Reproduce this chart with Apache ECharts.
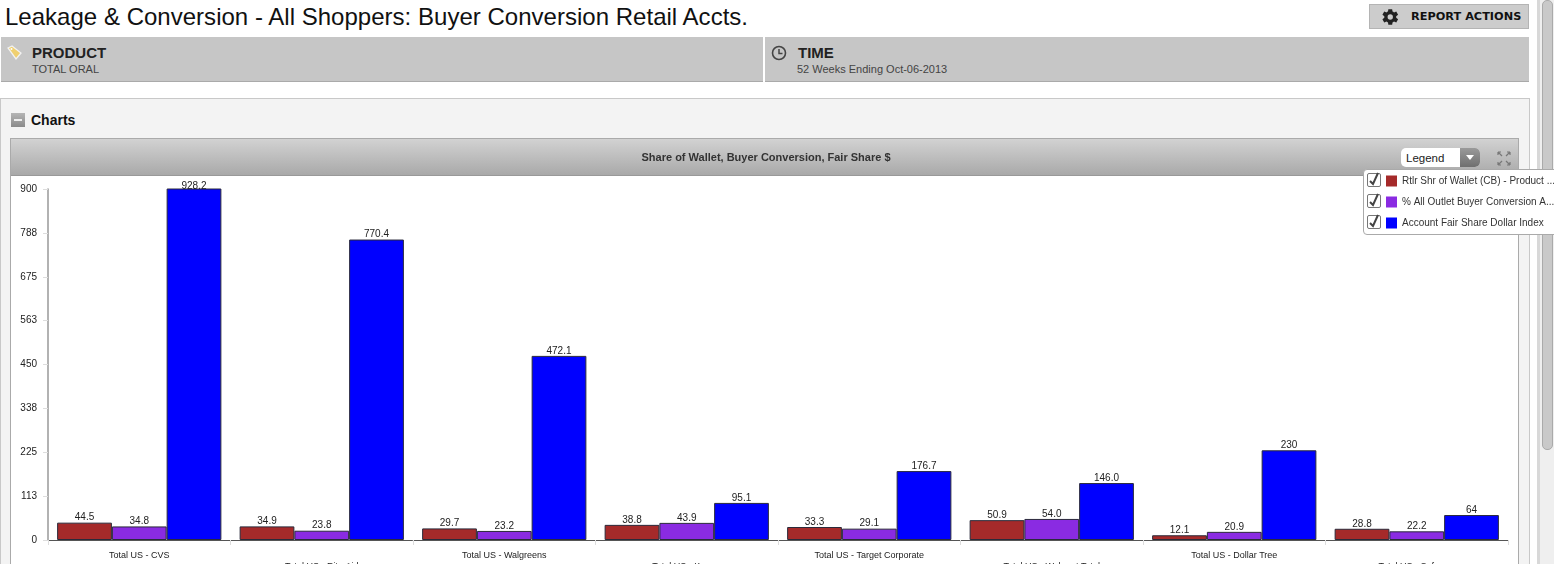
<!DOCTYPE html>
<html><head><meta charset="utf-8">
<script src="https://cdn.jsdelivr.net/npm/echarts@6/dist/echarts.min.js"></script>
<style>
html,body{margin:0;padding:0;width:1554px;height:564px;overflow:hidden;background:#fff;font-family:"Liberation Sans",Arial,sans-serif}
.a{position:absolute;box-sizing:border-box}
#chart{position:absolute;left:0;top:0;width:1554px;height:564px;z-index:5}
</style></head><body>
<div class="a" style="left:5px;top:3px;font-size:24px;line-height:28px;color:#111;white-space:nowrap;letter-spacing:.02px">Leakage &amp; Conversion - All Shoppers: Buyer Conversion Retail Accts.</div>
<div class="a" style="left:1369px;top:4px;width:160px;height:25px;background:#ccc;border:1px solid #b4b4b4"></div>
<svg class="a" style="left:1380px;top:7px" width="20" height="20" viewBox="0 0 24 24"><path fill="#222" d="M19.4 13a7.6 7.6 0 0 0 0-2l2.3-1.8-2.2-3.8-2.7 1.1a7.6 7.6 0 0 0-1.8-1L14.6 2.6H10L9.6 5.5a7.6 7.6 0 0 0-1.8 1L5.100 5.400 2.900 9.200 5.200 11a7.600 7.600 0 0 0 0 2l-2.300 1.800 2.200 3.800 2.700-1.100a7.600 7.600 0 0 0 1.800 1l.4 2.900h4.600l.4-2.900a7.600 7.600 0 0 0 1.800-1l2.700 1.100 2.200-3.800zM12.300 15.200a3.200 3.200 0 1 1 0-6.400 3.200 3.200 0 0 1 0 6.400z"/></svg>
<div class="a" style="left:1411px;top:10px;font:bold 11.300px 'DejaVu Sans';line-height:14px;color:#111;white-space:nowrap">REPORT ACTIONS</div>

<div class="a" style="left:1px;top:37px;width:762px;height:45px;background:#c6c6c6;border-bottom:1px solid #aaa"></div>
<div class="a" style="left:765px;top:37px;width:764px;height:45px;background:#c6c6c6;border-bottom:1px solid #aaa"></div>
<svg class="a" style="left:7px;top:45px" width="16" height="16" viewBox="0 0 16 16"><path fill="#f0d070" stroke="#f2f2f2" stroke-width="1.300" d="M1 3l4-2 9 7-5 6z"/><circle cx="4.500" cy="4" r="1" fill="#fff"/></svg>
<div class="a" style="left:32px;top:45px;font:bold 15px 'Liberation Sans';line-height:16px;color:#222">PRODUCT</div>
<div class="a" style="left:32px;top:63px;font-size:11px;line-height:13px;color:#444">TOTAL ORAL</div>
<svg class="a" style="left:771px;top:45px" width="16" height="16" viewBox="0 0 16 16"><circle cx="8" cy="8" r="6.500" fill="none" stroke="#444" stroke-width="1.600"/><path d="M8 4v4.500h3.500" fill="none" stroke="#444" stroke-width="1.500"/></svg>
<div class="a" style="left:798px;top:45px;font:bold 15px 'Liberation Sans';line-height:16px;color:#222">TIME</div>
<div class="a" style="left:797px;top:63px;font-size:11px;line-height:13px;color:#444">52 Weeks Ending Oct-06-2013</div>

<div class="a" style="left:0;top:98px;width:1530px;height:480px;background:#f3f3f3;border:1px solid #c8c8c8"></div>
<div class="a" style="left:11px;top:113px;width:14px;height:14px;background:linear-gradient(#b5b5b5,#8a8a8a)"><div class="a" style="left:3px;top:6px;width:8px;height:2px;background:#eee"></div></div>
<div class="a" style="left:31px;top:112px;font:bold 14px 'Liberation Sans';line-height:16px;color:#111">Charts</div>
<div class="a" style="left:10px;top:138px;width:1509px;height:440px;background:#fff;border:1px solid #aaa"></div>
<div class="a" style="left:11px;top:139px;width:1507px;height:37px;background:linear-gradient(#d2d2d2,#a9a9a9);border-bottom:1px solid #999"></div>
<div class="a" style="left:1401px;top:148px;width:79px;height:19px;background:#fff;border-radius:5px;overflow:hidden"><div class="a" style="right:0;top:0;width:20px;height:19px;background:linear-gradient(#9a9a9a,#6f6f6f)"></div><div class="a" style="right:6px;top:7px;border:4px solid transparent;border-top:5px solid #fff;border-bottom:0"></div><div class="a" style="left:5px;top:3px;font-size:11.500px;line-height:14px;color:#222">Legend</div></div>
<svg class="a" style="left:1497px;top:151px" width="14" height="15" viewBox="0 0 14 15"><g fill="none" stroke="#777" stroke-width="1.200"><path d="M1 1h3M1 1v3M1 1l4 4M13 1h-3M13 1v3M13 1l-4 4M1 14h3M1 14v-3M1 14l4-4M13 14h-3M13 14v-3M13 14l-4-4"/></g></svg>

<div class="a" style="left:1537px;top:0;width:3px;height:564px;background:#d8d8d8"></div>
<div class="a" style="left:1540px;top:0;width:14px;height:564px;background:#efefef"></div>
<div class="a" style="left:1542px;top:0;width:11px;height:450px;background:#c9c9c9;border:1px solid #aaa;border-radius:5px"></div>
<div class="a" style="left:1363px;top:169px;width:195px;height:66px;background:#fff;border:1px solid #aaa;border-radius:4px"></div>
<div id="checks"></div>
<div id="chart"></div>
<script>
const chartTitle = 'Share of Wallet, Buyer Conversion, Fair Share $';
const categories = ['Total US - CVS','Total US - Rite Aid','Total US - Walgreens','Total US - Kroger','Total US - Target Corporate','Total US - Walmart Total','Total US - Dollar Tree','Total US - Safeway'];
const walletShare = [44.5,34.9,29.7,38.8,33.3,50.9,12.1,28.8];
const buyerConversion = [34.8,23.8,23.2,43.9,29.1,54.0,20.9,22.2];
const fairShareIndex = [928.2,770.4,472.1,95.1,176.7,146.0,230,64];
const seriesNames = ['Rtlr Shr of Wallet (CB) - Product ...','% All Outlet Buyer Conversion A...','Account Fair Share Dollar Index'];
const seriesColors = ['#a52a2a','#8a2be2','#0000ff'];
const integerLabels = [230,64];
const axisMax = 900;

const checks = document.getElementById('checks');
[173,194,215].forEach(y=>{
  checks.insertAdjacentHTML('beforeend',`<div class="a" style="left:1367px;top:${y}px;width:14px;height:14px;border:1px solid #777;border-radius:2px;background:#fff"></div><svg class="a" style="left:1368px;top:${y-1}px" width="13" height="14" viewBox="0 0 13 14"><path d="M2 9l3 3 5-11" fill="none" stroke="#444" stroke-width="2"/></svg>`);
});

const fmt = v => integerLabels.includes(v) ? String(v) : v.toFixed(1);
const mk = (i,data) => ({
  name: seriesNames[i], type:'bar', barWidth:'30%', barGap:0,
  data: data.map(v => v > axisMax ? {value:v,label:{offset:[0,3]}} : v),
  itemStyle:{color:seriesColors[i],borderColor:'#2a2a3a',borderWidth:1},
  label:{show:true,position:'top',distance:0,color:'#222',fontSize:10,fontFamily:'Liberation Sans',formatter:p=>fmt(p.value)},
  emphasis:{disabled:true}, animation:false
});
const chart = echarts.init(document.getElementById('chart'),null,{renderer:'canvas'});
chart.setOption({
  animation:false,
  backgroundColor:'transparent',
  title:{text:chartTitle,left:761,top:147,textAlign:'center',textStyle:{fontSize:11,fontWeight:'bold',color:'#333',fontFamily:'Liberation Sans',lineHeight:12}},
  legend:{orient:'vertical',left:1381,top:170,padding:5,itemWidth:11,itemHeight:11,itemGap:9,icon:'rect',selectedMode:false,
    data:seriesNames,itemStyle:{borderWidth:0},textStyle:{fontSize:10,lineHeight:12,color:'#333',fontFamily:'Liberation Sans',padding:[0,0,0,0]}},
  grid:{left:48,top:189,width:1460,height:351,outerBoundsMode:'none'},
  xAxis:{type:'category',data:categories,
    axisLine:{lineStyle:{color:'#555',width:1}},
    axisTick:{show:true,length:5,lineStyle:{color:'#ddd'}},
    axisLabel:{interval:0,margin:10,fontSize:9,color:'#222',fontFamily:'Liberation Sans',lineHeight:11,
      formatter:(v,i)=>i%2?'\n'+v:v}},
  yAxis:{type:'value',min:0,max:axisMax,interval:112.5,
    axisLine:{show:true,lineStyle:{color:'#999',width:1.5}},
    axisTick:{show:true,length:5,lineStyle:{color:'#ddd'}},
    splitLine:{show:false},
    axisLabel:{margin:11,fontSize:10,color:'#222',fontFamily:'Liberation Sans',formatter:v=>String(Math.round(v))}},
  series:[mk(0,walletShare),mk(1,buyerConversion),mk(2,fairShareIndex)]
});
</script>
</body></html>
